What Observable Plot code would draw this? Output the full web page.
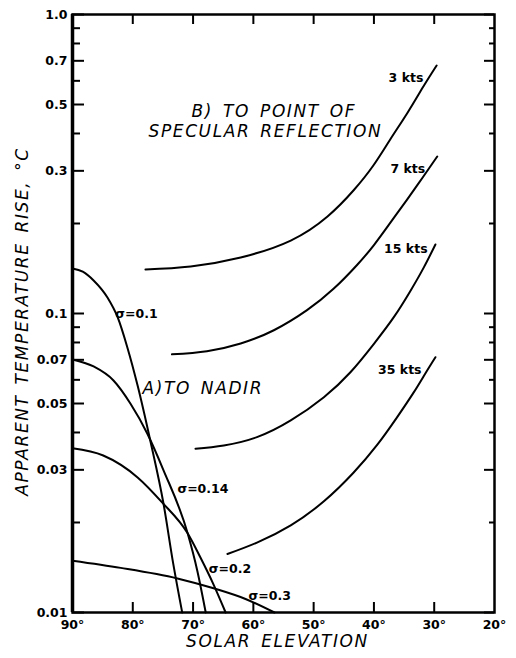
<!DOCTYPE html>
<html>
<head>
<meta charset="utf-8">
<script src="https://cdn.jsdelivr.net/npm/d3@7"></script>
<script src="https://cdn.jsdelivr.net/npm/@observablehq/plot@0.6"></script>
<style>
  body { margin: 0; background: #fff; }
  #chart svg { display: block; background: #fff; }
  #chart svg g[font-style="italic"] text { letter-spacing: 1.6px; word-spacing: 3px; }
</style>
</head>
<body>
<div id="chart"></div>
<script>
// ---- axis ticks ----
const elevTicks = [90, 80, 70, 60, 50, 40, 30, 20];
const elevInnerTicks = [80, 70, 60, 50, 40, 30];
const riseLabelTicks = [0.01, 0.03, 0.05, 0.07, 0.1, 0.3, 0.5, 0.7, 1.0];
const riseLabelText = ["0.01", "0.03", "0.05", "0.07", "0.1", "0.3", "0.5", "0.7", "1.0"];
const riseMinorTicks = [0.02, 0.04, 0.06, 0.08, 0.09, 0.2, 0.4, 0.6, 0.8, 0.9];

// ---- A) to nadir (sigma curves) ----
const sigma01Elev = [90, 88.3, 86.5, 84.2, 82.5, 80.9, 79.2, 77.1, 74.9, 73.3, 71.8];
const sigma01Rise = [0.1415, 0.1380, 0.129, 0.1131, 0.097, 0.077, 0.0574, 0.0376, 0.0231, 0.0146, 0.0100];

const sigma014Elev = [90, 86.5, 83.2, 80.4, 77.6, 74.9, 70.9, 69.3, 67.9];
const sigma014Rise = [0.0702, 0.0665, 0.0597, 0.0500, 0.0397, 0.0299, 0.0184, 0.0138, 0.0100];

const sigma02Elev = [90, 84.9, 79.2, 75.1, 70.9, 68.8, 66.6, 64.6];
const sigma02Rise = [0.0354, 0.0335, 0.0283, 0.0233, 0.0184, 0.0153, 0.0124, 0.0100];

const sigma03Elev = [90, 82.0, 72.6, 66.3, 61.3, 56.5];
const sigma03Rise = [0.0149, 0.0141, 0.0130, 0.0120, 0.0111, 0.0100];

// ---- B) to point of specular reflection (wind speed curves) ----
const kts3Elev = [77.9, 70.4, 62.1, 53.8, 47.7, 43.4, 40.1, 37.3, 34.4, 31.8, 29.6];
const kts3Rise = [0.1404, 0.1437, 0.1540, 0.1754, 0.2111, 0.2578, 0.3126, 0.3819, 0.4702, 0.5743, 0.6753];

const kts7Elev = [73.5, 67.7, 62.1, 56.6, 51.1, 46.7, 42.8, 40.0, 37.3, 34.5, 32.0, 29.5];
const kts7Rise = [0.0730, 0.0748, 0.0794, 0.0879, 0.1026, 0.1209, 0.1453, 0.1694, 0.2009, 0.2405, 0.2833, 0.3350];

const kts15Elev = [69.6, 64.9, 59.4, 53.8, 48.3, 43.9, 40.0, 36.7, 33.9, 31.7, 29.8];
const kts15Rise = [0.0353, 0.0362, 0.0386, 0.0439, 0.0525, 0.0636, 0.0792, 0.0972, 0.1194, 0.1429, 0.1701];

const kts35Elev = [64.3, 59.4, 53.8, 48.3, 43.4, 39.5, 36.2, 33.4, 31.5, 29.8];
const kts35Rise = [0.01569, 0.01713, 0.01957, 0.02354, 0.02933, 0.03626, 0.04485, 0.05446, 0.0629, 0.07142];

// ---- curve labels ----
const sigmaLabels = ["\u03c3=0.1", "\u03c3=0.14", "\u03c3=0.2", "\u03c3=0.3"];
const sigmaLabelElev = [82.9, 72.6, 67.4, 60.8];
const sigmaLabelRise = [0.1, 0.0258, 0.0140, 0.01132];

const ktsLabels = ["3 kts", "7 kts", "15 kts", "35 kts"];
const ktsLabelElev = [31.8, 31.5, 31.1, 32.1];
const ktsLabelRise = [0.611, 0.305, 0.1638, 0.0645];

const specTitleLines = ["B) TO POINT OF", "SPECULAR REFLECTION"];
const specTitleElev = [56.6, 58.0];
const specTitleRise = [0.474, 0.407];
const nadirTitle = ["A)TO NADIR"];
const nadirTitleElev = [78.4];
const nadirTitleRise = [0.0562];

// build tables
const nadirSeries = [
  ["s01", sigma01Elev, sigma01Rise],
  ["s014", sigma014Elev, sigma014Rise],
  ["s02", sigma02Elev, sigma02Rise],
  ["s03", sigma03Elev, sigma03Rise]
];
const specSeries = [
  ["k3", kts3Elev, kts3Rise],
  ["k7", kts7Elev, kts7Rise],
  ["k15", kts15Elev, kts15Rise],
  ["k35", kts35Elev, kts35Rise]
];
const toRows = list => list.flatMap(([name, xs, ys]) => xs.map((x, i) => ({series: name, elev: x, rise: ys[i]})));
const nadirRows = toRows(nadirSeries);
const specRows = toRows(specSeries);

const sigmaRows = sigmaLabels.map((t, i) => ({t, elev: sigmaLabelElev[i], rise: sigmaLabelRise[i]}));
const ktsRows = ktsLabels.map((t, i) => ({t, elev: ktsLabelElev[i], rise: ktsLabelRise[i]}));
const specTitleRows = specTitleLines.map((t, i) => ({t, elev: specTitleElev[i], rise: specTitleRise[i]}));
const nadirTitleRows = nadirTitle.map((t, i) => ({t, elev: nadirTitleElev[i], rise: nadirTitleRise[i]}));

const W = 516, H = 658;
const mL = 72, mR = 22, mT = 14, mB = 46;
const fw = W - mL - mR, fh = H - mT - mB;
const FONT = "DejaVu Sans";

const svg = Plot.plot({
  width: W,
  height: H,
  marginLeft: mL,
  marginRight: mR,
  marginTop: mT,
  marginBottom: mB,
  style: {background: "#fff", color: "#000"},
  x: {domain: [90, 20], axis: null},
  y: {type: "log", domain: [0.01, 1], axis: null},
  marks: [
    // inward ticks: left (major/minor)
    Plot.tickY(riseLabelTicks, {y: d => d, insetRight: fw - 12, stroke: "#000", strokeWidth: 2}),
    Plot.tickY(riseMinorTicks, {y: d => d, insetRight: fw - 8, stroke: "#000", strokeWidth: 2}),
    // right side ticks
    Plot.tickY(riseLabelTicks, {y: d => d, insetLeft: fw - 10, stroke: "#000", strokeWidth: 2}),
    Plot.tickY(riseMinorTicks, {y: d => d, insetLeft: fw - 5, stroke: "#000", strokeWidth: 2}),
    // bottom & top ticks
    Plot.tickX(elevInnerTicks, {x: d => d, insetTop: fh - 10, stroke: "#000", strokeWidth: 2}),
    Plot.tickX(elevInnerTicks, {x: d => d, insetBottom: fh - 10, stroke: "#000", strokeWidth: 2}),
    // frame
    Plot.frame({stroke: "#000", strokeWidth: 2.5}),
    Plot.ruleX([90], {stroke: "#000", strokeWidth: 3.5}),
    // curves
    Plot.line(nadirRows, {x: "elev", y: "rise", z: "series", curve: "monotone-x", stroke: "#000", strokeWidth: 2}),
    Plot.line(specRows, {x: "elev", y: "rise", z: "series", curve: "natural", stroke: "#000", strokeWidth: 2}),
    // tick labels
    Plot.text(elevTicks, {x: d => d, frameAnchor: "bottom", lineAnchor: "middle", dy: 12, text: d => d + "\u00b0",
      fontFamily: FONT, fontWeight: "bold", fontSize: 12.5, fill: "#000"}),
    Plot.text(riseLabelTicks, {y: d => d, frameAnchor: "left", dx: -5, textAnchor: "end",
      text: (d, i) => riseLabelText[i], fontFamily: FONT, fontWeight: "bold", fontSize: 12.5, fill: "#000"}),
    // curve labels
    Plot.text(sigmaRows, {x: "elev", y: "rise", text: "t", textAnchor: "start",
      fontFamily: FONT, fontWeight: "bold", fontSize: 12.5, fill: "#000"}),
    Plot.text(ktsRows, {x: "elev", y: "rise", text: "t", textAnchor: "end",
      fontFamily: FONT, fontWeight: "bold", fontSize: 12.5, fill: "#000"}),
    // in-plot titles
    Plot.text(specTitleRows, {x: "elev", y: "rise", text: "t", textAnchor: "middle",
      fontFamily: FONT, fontStyle: "italic", fontSize: 17, fill: "#000"}),
    Plot.text(nadirTitleRows, {x: "elev", y: "rise", text: "t", textAnchor: "start",
      fontFamily: FONT, fontStyle: "italic", fontSize: 17, fill: "#000"}),
    // axis titles
    Plot.text(["SOLAR ELEVATION"], {frameAnchor: "bottom", lineAnchor: "middle", textAnchor: "middle", dy: 29, dx: -6,
      fontFamily: FONT, fontStyle: "italic", fontSize: 17, fill: "#000"}),
    Plot.text(["APPARENT TEMPERATURE RISE, \u00b0C"], {frameAnchor: "left", lineAnchor: "middle", textAnchor: "middle",
      dx: -50, dy: 8, rotate: -90,
      fontFamily: FONT, fontStyle: "italic", fontSize: 17, fill: "#000"})
  ]
});

document.getElementById("chart").appendChild(svg);
</script>
</body>
</html>
